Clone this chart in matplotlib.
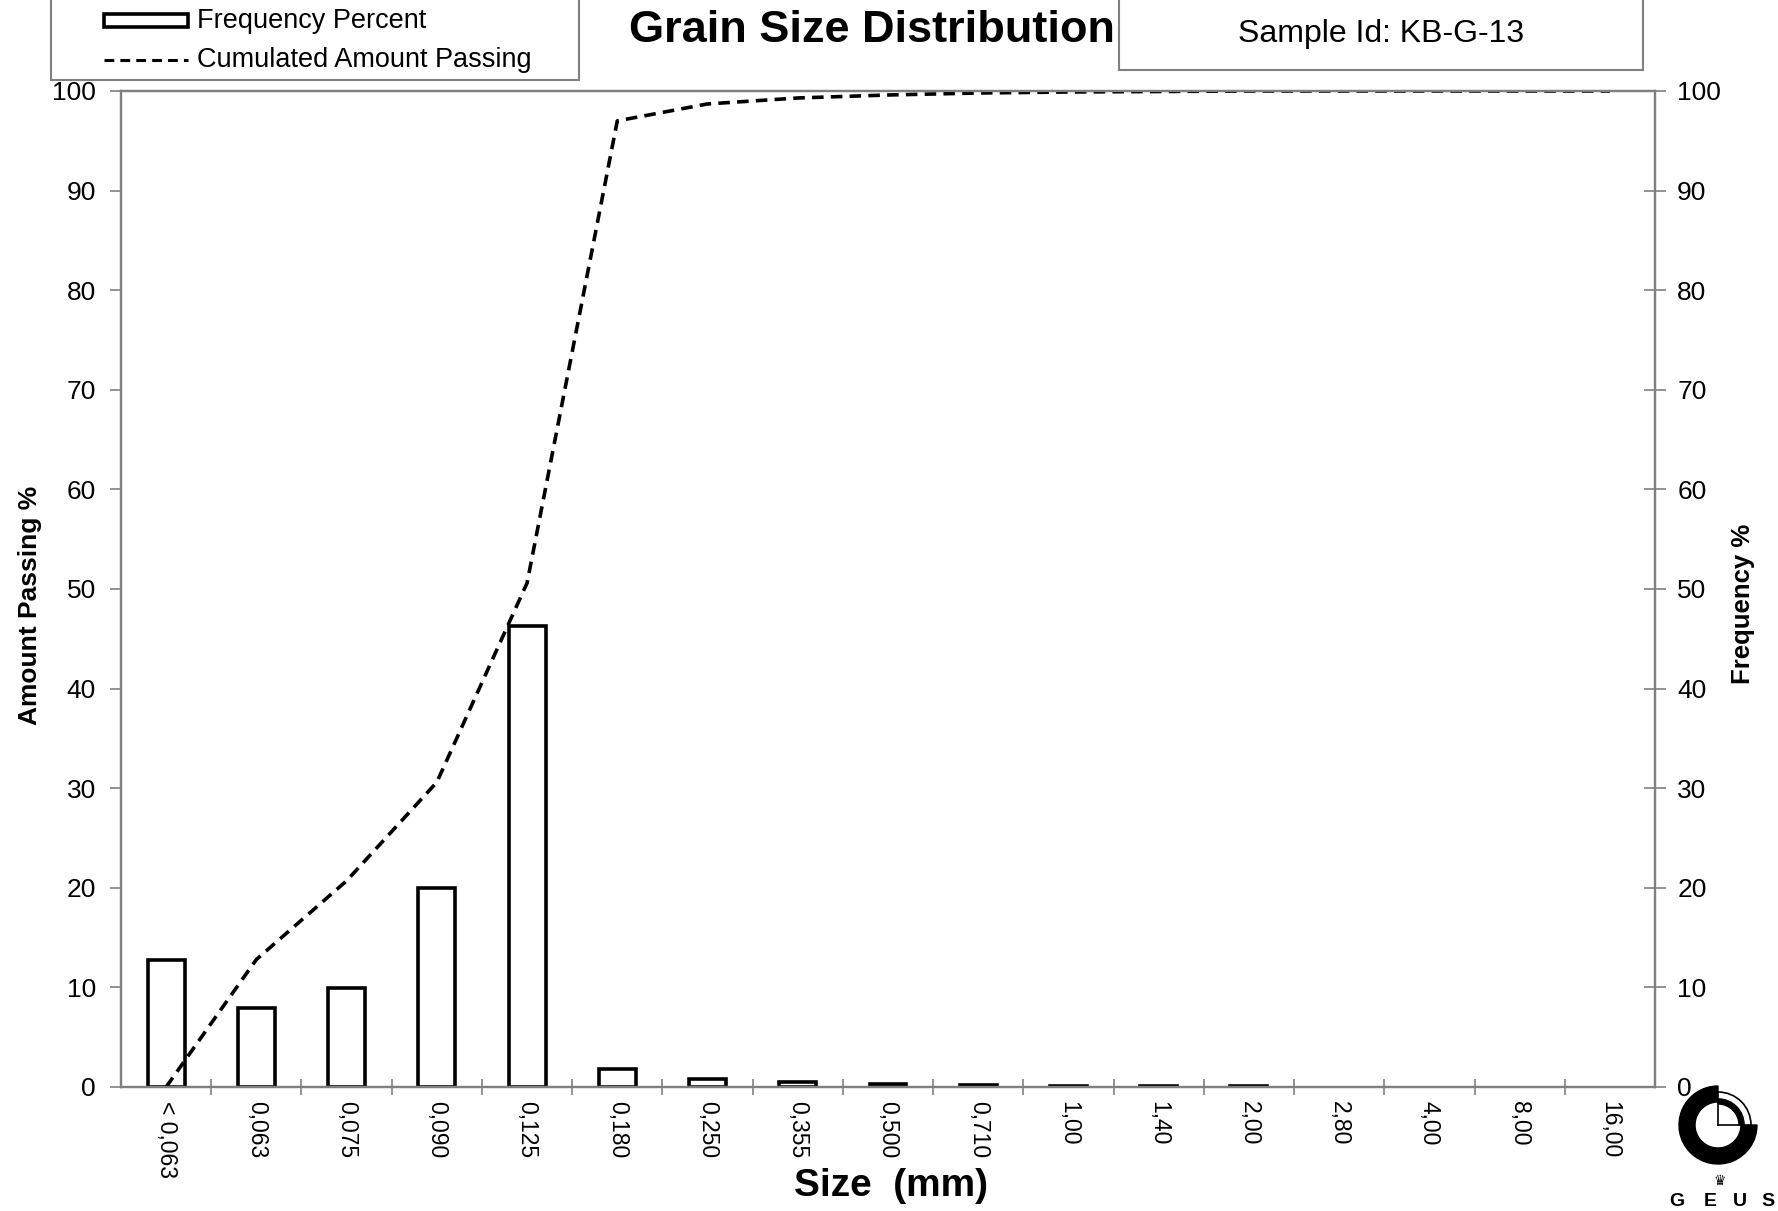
import numpy as np
import matplotlib
matplotlib.use("Agg")
import matplotlib.pyplot as plt
from matplotlib.patches import Rectangle, Wedge
from matplotlib.lines import Line2D

plt.rcParams['font.family'] = ['Liberation Sans', 'DejaVu Sans']

# ---- data ----
size_labels = ["< 0,063", "0,063", "0,075", "0,090", "0,125", "0,180", "0,250",
               "0,355", "0,500", "0,710", "1,00", "1,40", "2,00", "2,80",
               "4,00", "8,00", "16,00"]
frequency_pct = [12.8, 7.9, 9.9, 20.0, 46.3, 1.8, 0.8, 0.5, 0.3, 0.2,
                 0.15, 0.15, 0.15, 0.0, 0.0, 0.0, 0.0]
cumulative_pct = [0.0, 12.8, 20.7, 30.6, 50.6, 97.0, 98.7, 99.3, 99.6, 99.8,
                  99.9, 99.95, 100.0, 100.0, 100.0, 100.0, 100.0]
y_ticks = list(range(0, 101, 10))

W, H = 1778, 1211
def fx(px):
    return px / W
def fy(py):
    return 1 - py / H

DASH = (0, (3.2, 2.0))

fig = plt.figure(figsize=(W / 100, H / 100), dpi=100)
ax = fig.add_axes([fx(121), fy(1087), (1655 - 121) / W, (1087 - 91) / H])
ax2 = ax.twinx()

x = np.arange(len(size_labels))
freq = np.array(frequency_pct)
mask = freq > 0
ax2.bar(x[mask], freq[mask], width=0.41, facecolor='white', edgecolor='black',
        linewidth=2.6)
ax.plot(x, cumulative_pct, color='black', linestyle=DASH, linewidth=2.6)

ax.set_zorder(ax2.get_zorder() + 1)
ax.patch.set_visible(False)

ax.set_xlim(-0.5, 16.5)
ax.set_ylim(0, 100)
ax2.set_ylim(0, 100)

ax.set_xticks(x)
ax.set_xticklabels(size_labels, rotation=-90, fontsize=16.5)
ax.set_xticks(np.arange(0.5, 16, 1), minor=True)
ax.tick_params(axis='x', which='major', length=0, pad=10)
ax.tick_params(axis='x', which='minor', direction='inout', length=11,
               width=1.2, color='#808080')

ax.set_yticks(y_ticks)
ax.tick_params(axis='y', direction='out', length=8, width=1.2, color='#808080',
               labelsize=19, pad=10)
ax2.set_yticks(y_ticks)
ax2.tick_params(axis='y', direction='inout', length=16, width=1.2,
                color='#808080', labelsize=19, pad=8)

for a in (ax, ax2):
    for s in a.spines.values():
        s.set_color('#808080')
        s.set_linewidth(1.6)

# axis titles
fig.text(fx(30), fy(605), 'Amount Passing %', rotation=90, ha='center',
         va='center', fontsize=19, fontweight='bold')
fig.text(fx(1743), fy(604), 'Frequency %', rotation=90, ha='center',
         va='center', fontsize=18.5, fontweight='bold')
fig.text(fx(891), fy(1186), 'Size  (mm)', ha='center', va='center',
         fontsize=28, fontweight='bold')
fig.text(fx(872), fy(31), 'Grain Size Distribution', ha='center', va='center',
         fontsize=32.5, fontweight='bold')

# legend box
fig.add_artist(Rectangle((fx(51), fy(80)), (579 - 51) / W, 0.2,
                         transform=fig.transFigure, facecolor='white',
                         edgecolor='#808080', linewidth=1.5, clip_on=False))
fig.add_artist(Rectangle((fx(104), fy(27)), (188 - 104) / W, 13 / H,
                         transform=fig.transFigure, facecolor='white',
                         edgecolor='black', linewidth=2.6))
fig.add_artist(Line2D([fx(104), fx(188)], [fy(60), fy(60)],
                      transform=fig.transFigure, color='black',
                      linestyle=DASH, linewidth=2.2))
fig.text(fx(197), fy(21), 'Frequency Percent', ha='left', va='center',
         fontsize=19.5)
fig.text(fx(197), fy(60), 'Cumulated Amount Passing', ha='left', va='center',
         fontsize=19.5)

# sample id box
fig.add_artist(Rectangle((fx(1119), fy(70)), (1643 - 1119) / W, 0.2,
                         transform=fig.transFigure, facecolor='white',
                         edgecolor='#808080', linewidth=1.5, clip_on=False))
fig.text(fx(1381), fy(34), 'Sample Id: KB-G-13', ha='center', va='center',
         fontsize=23)

# GEUS logo
lax = fig.add_axes([fx(1660), 0, (W - 1660) / W, 140 / H])
lax.set_xlim(1660, W)
lax.set_ylim(0, 140)
lax.set_axis_off()
c = (1718, H - 1125)
lax.add_patch(Wedge(c, 39, 90, 360, width=16, color='black'))
lax.add_patch(Wedge(c, 33, 0, 90, width=7, facecolor='white',
                    edgecolor='black', linewidth=1.2))
lax.add_patch(Wedge(c, 25, 0, 90, width=4, color='black'))
lax.plot([c[0], c[0]], [c[1], c[1] + 25], color='black', lw=1.2)
lax.plot([c[0], c[0] + 25], [c[1], c[1]], color='black', lw=1.2)
lax.text(1720, H - 1181, '\u265b', ha='center', va='center', fontsize=10,
         family='DejaVu Sans')
for letter, lx in zip(['G', 'E', 'U', 'S'], [1677, 1710, 1740, 1768]):
    lax.text(lx, H - 1202, letter, ha='center', va='center', fontsize=14,
             fontweight='bold')

fig.savefig('out.png', dpi=100)
